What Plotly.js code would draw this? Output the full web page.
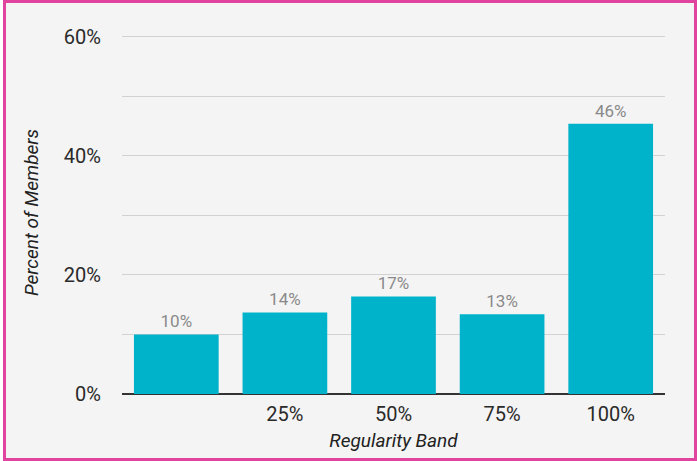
<!DOCTYPE html>
<html>
<head>
<meta charset="utf-8">
<script src="https://cdn.plot.ly/plotly-3.0.1.min.js"></script>
<style>
  html, body { margin: 0; padding: 0; background: #ffffff; width: 697px; height: 461px; overflow: hidden; }
  #frame { position: absolute; left: 3px; top: 0px; width: 694px; height: 461px; box-sizing: border-box;
           border: 3px solid #E0449E; background: #F4F4F4; }
  #chart { position: absolute; left: 6px; top: 3px; width: 688px; height: 455px; }
</style>
</head>
<body>
<div id="frame"></div>
<div id="chart"></div>
<script>
const categories = ['0%', '25%', '50%', '75%', '100%'];
const tickLabels = ['', '25%', '50%', '75%', '100%'];
const percentMembers = [10.0, 13.7, 16.4, 13.4, 45.4];
const barLabels = ['10%', '14%', '17%', '13%', '46%'];
const yTickVals = [0, 10, 20, 30, 40, 50, 60];
const yTickText = ['0%', '', '20%', '', '40%', '', '60%'];

const trace = {
  type: 'bar',
  x: categories,
  y: percentMembers,
  text: barLabels,
  textposition: 'outside',
  cliponaxis: false,
  textfont: { family: 'Roboto, sans-serif', size: 17, color: '#8a8a8a' },
  marker: { color: '#00B3CA', line: { width: 0 } },
  hoverinfo: 'skip'
};

const layout = {
  width: 688,
  height: 455,
  margin: { l: 116, r: 29, t: 28, b: 64, pad: 0 },
  paper_bgcolor: 'rgba(0,0,0,0)',
  plot_bgcolor: '#F4F4F4',
  bargap: 0.22,
  showlegend: false,
  font: { family: 'Roboto, sans-serif', color: '#333333' },
  xaxis: {
    type: 'category',
    tickvals: categories,
    ticktext: tickLabels,
    tickfont: { family: 'Roboto, sans-serif', size: 20, color: '#2a2a2a' },
    ticks: 'outside', ticklen: 2, tickcolor: 'rgba(0,0,0,0)',
    showgrid: false,
    showline: false,
    zeroline: false,
    title: { text: '<i>Regularity Band</i>', font: { family: 'Roboto, sans-serif', size: 19, color: '#222222' }, standoff: 8 }
  },
  yaxis: {
    range: [0, 61],
    tickvals: yTickVals,
    ticktext: yTickText,
    tickfont: { family: 'Roboto, sans-serif', size: 20, color: '#2a2a2a' },
    ticks: 'outside', ticklen: 16, tickcolor: 'rgba(0,0,0,0)',
    showgrid: true,
    gridcolor: '#D2D2D2',
    gridwidth: 1,
    zeroline: true,
    zerolinecolor: '#333333',
    zerolinewidth: 2,
    title: { text: '<i>Percent of Members</i>', font: { family: 'Roboto, sans-serif', size: 19, color: '#222222' }, standoff: 20 }
  }
};

Plotly.newPlot('chart', [trace], layout, { displayModeBar: false, staticPlot: true });
</script>
</body>
</html>
